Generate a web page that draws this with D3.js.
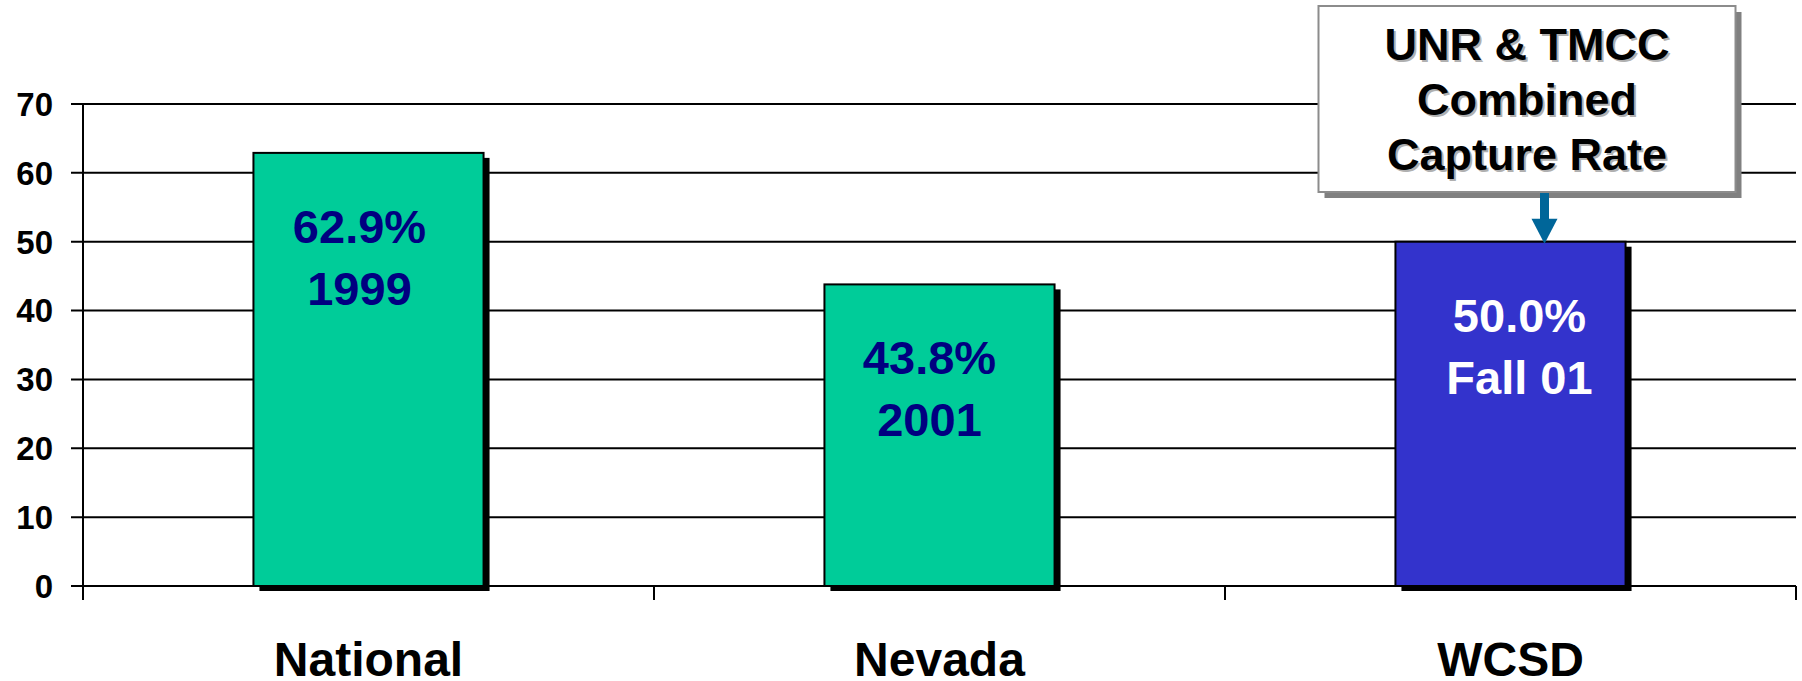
<!DOCTYPE html>
<html>
    <head>
        <meta charset="utf-8">
        <title>Capture Rate</title>
        <script src="https://d3js.org/d3.v7.min.js" charset="utf-8"></script>
        <style>
            body { margin: 0; background: #fff; }
            text { font-family: "Liberation Sans", Arial, sans-serif; font-weight: bold; }
            .grid line { stroke: #000; stroke-width: 2px; }
        </style>
    </head>
    <body>
        <script>
            var width = 1802;
            var height = 681;

            // data
            var categories = ["National", "Nevada", "WCSD"];
            var values = [62.9, 43.8, 50.0];
            var periods = ["1999", "2001", "Fall 01"];
            var yTicks = [0, 10, 20, 30, 40, 50, 60, 70];
            var calloutLines = ["UNR & TMCC", "Combined", "Capture Rate"];

            var barColors = ["#00cc99", "#00cc99", "#3333cc"];
            var labelColors = ["#000080", "#000080", "#ffffff"];
            var labelShift = [-9, -10, 9];

            var svg = d3.select("body").append("svg")
                .attr("width", width)
                .attr("height", height);

            // plot edges (window.top is read-only, so no plain "top")
            var plotL = 83, plotR = 1796, plotB = 586, plotT = 104;

            var x = d3.scaleBand()
                .domain(categories)
                .range([plotL, plotR]);

            var y = d3.scaleLinear()
                .domain([0, 70])
                .range([plotB, plotT]);

            var barW = x.bandwidth() * 0.403;

            // horizontal grid lines + tick marks
            var grid = svg.append("g").attr("class", "grid");
            grid.selectAll("line")
                .data(yTicks)
                .enter().append("line")
                .attr("x1", plotL - 12)
                .attr("x2", plotR)
                .attr("y1", function(d) { return y(d); })
                .attr("y2", function(d) { return y(d); });

            // y tick labels
            svg.selectAll(".ytick")
                .data(yTicks)
                .enter().append("text")
                .attr("class", "ytick")
                .attr("x", 53)
                .attr("y", function(d) { return y(d); })
                .attr("dy", "0.36em")
                .attr("text-anchor", "end")
                .style("font-size", "33px")
                .text(function(d) { return d; });

            // y axis line
            svg.append("line")
                .attr("x1", plotL).attr("x2", plotL)
                .attr("y1", plotT).attr("y2", plotB + 14)
                .attr("stroke", "#000").attr("stroke-width", 2);

            // category ticks
            var catEdges = categories.map(function(c) { return x(c); }).concat([plotR]);
            svg.selectAll(".ctick")
                .data(catEdges)
                .enter().append("line")
                .attr("x1", function(d) { return d; })
                .attr("x2", function(d) { return d; })
                .attr("y1", plotB)
                .attr("y2", plotB + 14)
                .attr("stroke", "#000").attr("stroke-width", 2);

            var bars = svg.selectAll(".bar")
                .data(values)
                .enter().append("g")
                .attr("class", "bar");

            // shadow
            bars.append("rect")
                .attr("x", function(d, i) { return x(categories[i]) + (x.bandwidth() - barW) / 2 + 6; })
                .attr("y", function(d) { return y(d) + 5; })
                .attr("width", barW)
                .attr("height", function(d) { return plotB - y(d); })
                .attr("fill", "#000");

            bars.append("rect")
                .attr("x", function(d, i) { return x(categories[i]) + (x.bandwidth() - barW) / 2; })
                .attr("y", function(d) { return y(d); })
                .attr("width", barW)
                .attr("height", function(d) { return plotB - y(d); })
                .attr("fill", function(d, i) { return barColors[i]; })
                .attr("stroke", "#000")
                .attr("stroke-width", 2);

            // value labels inside bars
            bars.append("text")
                .attr("x", function(d, i) { return x(categories[i]) + x.bandwidth() / 2 + labelShift[i]; })
                .attr("y", function(d) { return y(d) + 90; })
                .attr("text-anchor", "middle")
                .attr("fill", function(d, i) { return labelColors[i]; })
                .style("font-size", "47px")
                .text(function(d) { return d.toFixed(1) + "%"; });

            bars.append("text")
                .attr("x", function(d, i) { return x(categories[i]) + x.bandwidth() / 2 + labelShift[i]; })
                .attr("y", function(d) { return y(d) + 152; })
                .attr("text-anchor", "middle")
                .attr("fill", function(d, i) { return labelColors[i]; })
                .style("font-size", "47px")
                .text(function(d, i) { return periods[i]; });

            // category labels
            svg.selectAll(".cat")
                .data(categories)
                .enter().append("text")
                .attr("class", "cat")
                .attr("x", function(d) { return x(d) + x.bandwidth() / 2; })
                .attr("y", 676)
                .attr("text-anchor", "middle")
                .style("font-size", "48px")
                .text(function(d) { return d; });

            // callout over WCSD
            var wcsd = categories.indexOf("WCSD");
            var cx = x(categories[wcsd]) + x.bandwidth() / 2;
            var box = { x: cx - 192, y: 6, w: 417, h: 186 };
            var callout = svg.append("g");

            callout.append("rect")
                .attr("x", box.x + 6).attr("y", box.y + 6)
                .attr("width", box.w).attr("height", box.h)
                .attr("fill", "#808080");
            callout.append("rect")
                .attr("x", box.x).attr("y", box.y)
                .attr("width", box.w).attr("height", box.h)
                .attr("fill", "#fff")
                .attr("stroke", "#8c8c8c")
                .attr("stroke-width", 2);

            var tx = box.x + box.w / 2;
            calloutLines.forEach(function(t, i) {
                callout.append("text")
                    .attr("x", tx + 2).attr("y", 60 + i * 55 + 2)
                    .attr("text-anchor", "middle")
                    .attr("fill", "#b0b0b0")
                    .style("font-size", "45px")
                    .text(t);
                callout.append("text")
                    .attr("x", tx).attr("y", 60 + i * 55)
                    .attr("text-anchor", "middle")
                    .attr("fill", "#000")
                    .style("font-size", "45px")
                    .text(t);
            });

            // arrow down to bar top
            var ax = cx + 34;
            var tip = y(values[wcsd]);
            callout.append("rect")
                .attr("x", ax - 4.5).attr("y", box.y + box.h + 1)
                .attr("width", 9).attr("height", tip - 22 - (box.y + box.h + 1))
                .attr("fill", "#006699");
            callout.append("path")
                .attr("d", "M" + (ax - 13) + "," + (tip - 23) + "L" + (ax + 13) + "," + (tip - 23) + "L" + ax + "," + (tip + 2) + "Z")
                .attr("fill", "#006699");
        </script>
    </body>
</html>
